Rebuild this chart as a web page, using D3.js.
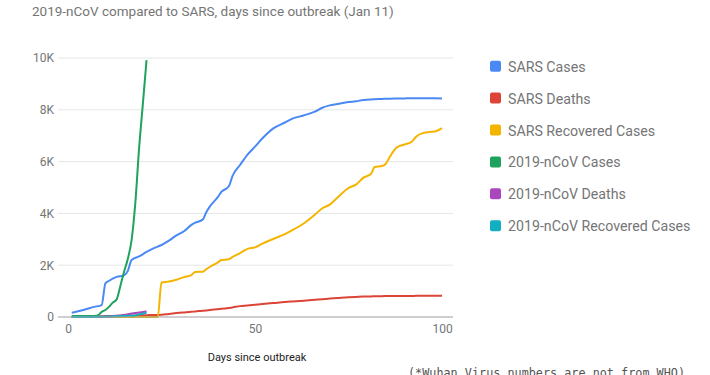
<!DOCTYPE html>
<html><head><meta charset="utf-8">
<script src="https://cdn.jsdelivr.net/npm/d3@7"></script>
<style>body{margin:0;background:#fff;}svg{display:block;font-family:Roboto,Arial,sans-serif;}</style>
</head><body><svg id="c" width="710" height="375"></svg>
<script>
const title = "2019-nCoV compared to SARS, days since outbreak (Jan 11)";
const xTitle = "Days since outbreak";
const footnote = "(*Wuhan Virus numbers are not from WHO)";
const xTicks = [0, 50, 100];
const yTicks = [0, 2000, 4000, 6000, 8000, 10000];
const yTickLabels = ["0", "2K", "4K", "6K", "8K", "10K"];
const seriesNames = ["SARS Cases", "SARS Deaths", "SARS Recovered Cases", "2019-nCoV Cases", "2019-nCoV Deaths", "2019-nCoV Recovered Cases"];
const colors = ["#4a89f5", "#db4437", "#f4b400", "#1ea25d", "#ab47bc", "#12afc3"];

const sarsDays = [1,3,5,7,9,10,11,13,15,16,17,19,21,23,24,25,27,29,31,33,34,36,37,38,40,41,43,44,46,48,50,52,55,58,60,63,66,68,70,72,75,77,79,81,82,84,85,86,88,90,92,93,95,97,98,100];
const sarsCases = [160,230,310,390,460,1300,1400,1550,1610,1780,2200,2340,2510,2660,2720,2780,2950,3150,3310,3560,3640,3760,4050,4280,4620,4830,5050,5450,5870,6270,6580,6900,7290,7510,7660,7780,7930,8080,8170,8220,8300,8330,8380,8400,8405,8420,8425,8430,8435,8440,8445,8445,8445,8450,8450,8440];
const sarsDeaths = [10,15,20,25,30,35,38,45,50,55,58,65,72,78,80,85,120,150,175,200,215,240,255,270,300,315,350,370,420,440,470,500,540,580,600,630,665,690,710,730,760,775,790,795,800,805,807,808,810,812,815,816,818,820,821,823];
const sarsRecovered = [0,0,0,0,0,0,0,0,0,0,0,0,0,0,0,1330,1370,1440,1540,1620,1740,1750,1850,1940,2100,2200,2230,2320,2470,2630,2690,2830,3020,3200,3350,3610,3950,4200,4340,4600,4980,5110,5380,5520,5790,5830,5920,6170,6560,6660,6780,6950,7110,7150,7160,7290];

const ncovDays = [1,2,3,4,5,6,7,8,9,10,11,12,13,14,15,16,17,18,19,20,21];
const ncovCases = [41,41,41,41,41,41,41,60,200,270,400,560,680,1200,1750,2250,2970,4400,6500,8200,9920];
const ncovDeaths = [0,1,1,1,1,1,2,3,6,9,17,25,41,56,80,106,132,150,170,195,213];
const ncovRecovered = [0,0,0,0,0,2,5,10,12,15,20,25,28,34,38,49,51,60,103,124,171];

const series = [
  {days: sarsDays, vals: sarsCases},
  {days: sarsDays, vals: sarsDeaths},
  {days: sarsDays, vals: sarsRecovered},
  {days: ncovDays, vals: ncovCases},
  {days: ncovDays, vals: ncovDeaths},
  {days: ncovDays, vals: ncovRecovered}
];

const svg = d3.select("#c");
const plotL = 58, plotR = 453;
const x = d3.scaleLinear().domain([0, 100]).range([68, 442]);
const y = d3.scaleLinear().domain([0, 10000]).range([317, 58]);

svg.append("text").attr("x", 32).attr("y", 16).attr("font-size", 13.5).attr("fill", "#757575").text(title);

// gridlines
svg.append("g").selectAll("line").data(yTicks.filter(d => d > 0)).join("line")
  .attr("x1", plotL).attr("x2", plotR).attr("y1", d => y(d)).attr("y2", d => y(d))
  .attr("stroke", "#e6e6e6").attr("stroke-width", 1);

// y axis labels
const yAxis = d3.axisLeft(y).tickValues(yTicks).tickSize(0).tickPadding(0)
  .tickFormat((d, i) => yTickLabels[i]);
const gy = svg.append("g").attr("transform", `translate(54,0)`).call(yAxis);
gy.select(".domain").remove();
gy.selectAll("text").attr("font-size", 12).attr("fill", "#757575").attr("font-family", "Roboto");

// x axis labels
const xAxis = d3.axisBottom(x).tickValues(xTicks).tickSize(0).tickPadding(0).tickFormat(d3.format("d"));
const gx = svg.append("g").attr("transform", `translate(0,${y(0) + 7})`).call(xAxis);
gx.select(".domain").remove();
gx.selectAll("text").attr("font-size", 12).attr("fill", "#757575").attr("font-family", "Roboto");

// lines
const line = d3.line().curve(d3.curveMonotoneX);
series.forEach((s, i) => {
  const pts = s.days.map((d, j) => [x(d), y(s.vals[j])]);
  svg.append("path").attr("d", line(pts)).attr("fill", "none")
    .attr("stroke", colors[i]).attr("stroke-width", 2).attr("stroke-linejoin", "round");
});

// baseline
svg.append("line").attr("x1", plotL).attr("x2", plotR).attr("y1", y(0)).attr("y2", y(0))
  .attr("stroke", "#9e9e9e").attr("stroke-width", 1);

// x title
svg.append("text").attr("x", 257).attr("y", 361).attr("text-anchor", "middle")
  .attr("font-size", 11).attr("fill", "#222").text(xTitle);

// legend
const lg = svg.append("g").selectAll("g").data(seriesNames).join("g")
  .attr("transform", (d, i) => `translate(490,${66.7 + i * 31.9})`);
lg.append("rect").attr("x", 0).attr("y", -6).attr("width", 11).attr("height", 11).attr("rx", 2)
  .attr("fill", (d, i) => colors[i]);
lg.append("text").attr("x", 18).attr("y", 5).attr("font-size", 14.2).attr("fill", "#757575").text(d => d);

// footnote
svg.append("text").attr("x", 408).attr("y", 377).attr("font-size", 11.8)
  .attr("font-family", "'DejaVu Sans Mono', monospace").attr("fill", "#555").text(footnote);
</script></body></html>
